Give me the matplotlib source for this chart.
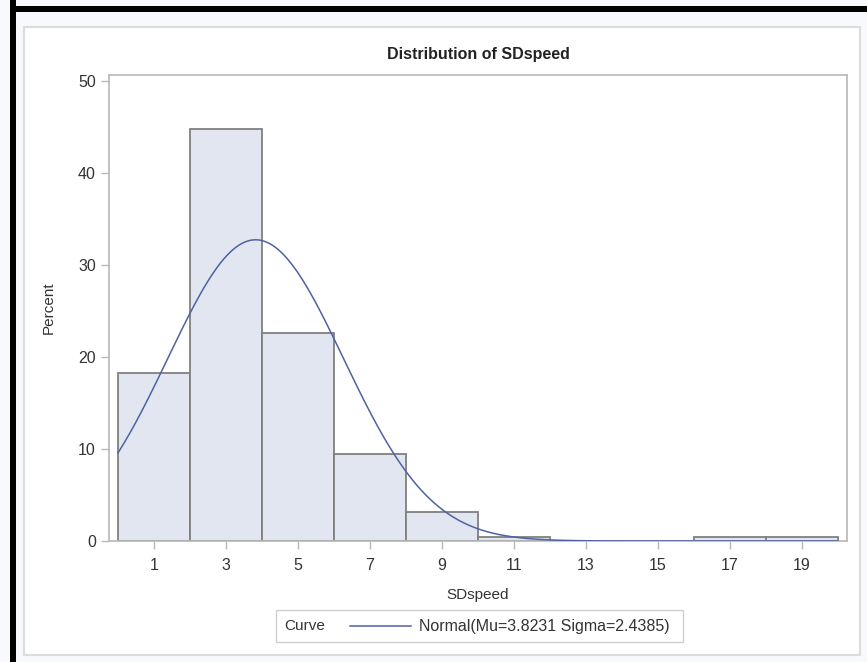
import numpy as np
import matplotlib
matplotlib.use("Agg")
import matplotlib.pyplot as plt
from matplotlib.patches import Rectangle
from matplotlib.lines import Line2D

plt.rcParams['font.family'] = ['Liberation Sans', 'DejaVu Sans']

# histogram of SDspeed (percent per bin of width 2)
bin_edges = [0, 2, 4, 6, 8, 10, 12, 14, 16, 18, 20]
percents = [18.2, 44.8, 22.6, 9.5, 3.2, 0.4, 0.0, 0.0, 0.4, 0.4]
# fitted normal from the legend
mu = 3.8231
sigma = 2.4385
x_ticks = [1, 3, 5, 7, 9, 11, 13, 15, 17, 19]
y_ticks = [0, 10, 20, 30, 40, 50]

W, H = 867, 662
fig = plt.figure(figsize=(W / 100, H / 100), dpi=100)
fig.patch.set_facecolor('#f8f9fd')


def fx(px):
    return px / W


def fy(py):
    return 1 - py / H


# black frame (left and top only, as in the screenshot)
fig.add_artist(Rectangle((fx(10), fy(662)), fx(6), 1, transform=fig.transFigure,
                         facecolor='black', edgecolor='none', zorder=-10))
fig.add_artist(Rectangle((fx(10), fy(12)), 1, fy(6) - fy(12), transform=fig.transFigure,
                         facecolor='black', edgecolor='none', zorder=-10))
# white inner panel
fig.add_artist(Rectangle((fx(24), fy(655)), fx(860 - 24), fy(27) - fy(655),
                         transform=fig.transFigure, facecolor='white',
                         edgecolor='#dcdcdc', linewidth=1.5, zorder=-10))

ax = fig.add_axes([fx(109), fy(541), fx(847 - 109), fy(74.7) - fy(541)])
ax.set_facecolor('white')

widths = np.diff(bin_edges)
ax.bar(bin_edges[:-1], percents, width=widths, align='edge',
       color='#e1e6f0', edgecolor='#808080', linewidth=1.3, zorder=2)

xs = np.linspace(bin_edges[0], bin_edges[-1], 500)
curve = 100 * widths[0] * np.exp(-0.5 * ((xs - mu) / sigma) ** 2) / (sigma * np.sqrt(2 * np.pi))
ax.plot(xs, curve, color='#5062a2', linewidth=1.1, zorder=3)

ax.set_xlim(-0.25, 20.25)
ax.set_ylim(0, 50.65)
ax.set_xticks(x_ticks)
ax.set_yticks(y_ticks)
for s in ax.spines.values():
    s.set_color('#b8b8b8')
    s.set_linewidth(1.2)
ax.tick_params(colors='#b8b8b8', labelcolor='#333333', labelsize=11.5, length=6, width=1)
ax.tick_params(axis='x', pad=6)
ax.set_xlabel('SDspeed', fontsize=11, color='#333333', labelpad=11)
ax.set_ylabel('Percent', fontsize=11, color='#333333', labelpad=16)

fig.text(fx(478), fy(54), 'Distribution of SDspeed', ha='center', va='center',
         fontsize=11.5, fontweight='bold', color='#222222')

# legend
fig.add_artist(Rectangle((fx(276), fy(642)), fx(683 - 276), fy(610) - fy(642),
                         transform=fig.transFigure, facecolor='white',
                         edgecolor='#d0d0d0', linewidth=1))
fig.text(fx(284), fy(626), 'Curve', ha='left', va='center', fontsize=11, color='#333333')
fig.add_artist(Line2D([fx(350), fx(411)], [fy(626), fy(626)], transform=fig.transFigure,
                      color='#5062a2', linewidth=1.1))
fig.text(fx(419), fy(626), 'Normal(Mu=%.4f Sigma=%.4f)' % (mu, sigma), ha='left', va='center',
         fontsize=11.5, color='#333333')

fig.savefig('out.png', dpi=100, facecolor=fig.get_facecolor())
